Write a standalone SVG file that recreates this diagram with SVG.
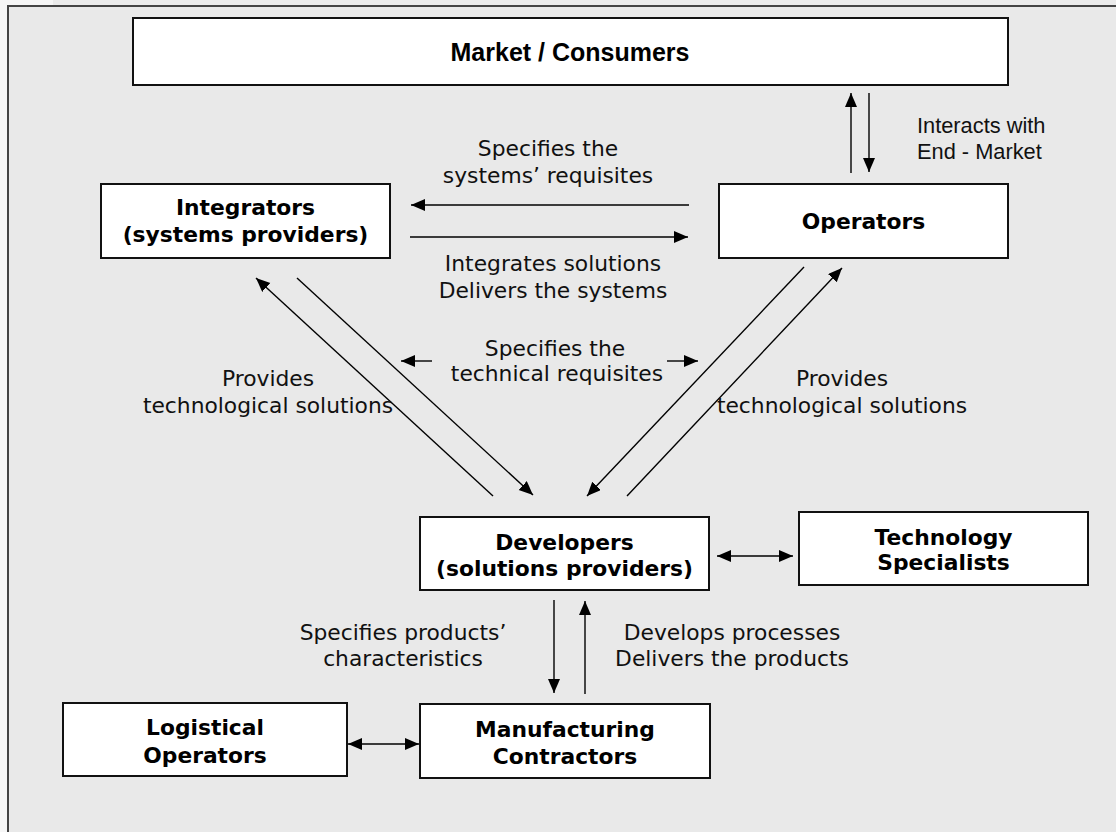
<svg xmlns="http://www.w3.org/2000/svg" width="1116" height="832" viewBox="0 0 1116 832">
<defs>
<marker id="ah" markerUnits="userSpaceOnUse" markerWidth="15" markerHeight="13" refX="14" refY="6" orient="auto-start-reverse">
<path d="M0,0 L14,6 L0,12 z" fill="#000"/>
</marker>
<style>
.box{fill:#fff;stroke:#111;stroke-width:2}
.nl{font-family:"DejaVu Sans",Verdana,sans-serif;font-weight:bold;font-size:21.8px;text-anchor:middle;fill:#000}
.lb{font-family:"DejaVu Sans",Verdana,sans-serif;font-size:21.8px;text-anchor:middle;fill:#111}
.ar{font-family:"Liberation Sans",Arial,sans-serif;font-size:21.8px;fill:#111}
.c line{stroke:#000;stroke-width:1.4;fill:none}
</style>
</defs>
<rect x="0" y="0" width="1116" height="832" fill="#f6f6f6"/>
<rect x="53" y="0" width="1063" height="7" fill="#ebebeb"/>
<rect x="8" y="6" width="1120" height="840" fill="#e9e9e9" stroke="#444" stroke-width="2"/>

<g id="market">
<rect class="box" x="133" y="18" width="875" height="67"/>
<text x="570" y="61" font-family="Liberation Sans, Arial, sans-serif" font-weight="bold" font-size="25" text-anchor="middle">Market / Consumers</text>
</g>
<g id="integrators">
<rect class="box" x="101" y="184" width="289" height="74"/>
<text class="nl" x="245.5" y="215">Integrators</text>
<text class="nl" x="245.5" y="242">(systems providers)</text>
</g>
<g id="operators">
<rect class="box" x="719" y="184" width="289" height="74"/>
<text class="nl" x="863.5" y="229">Operators</text>
</g>
<g id="developers">
<rect class="box" x="420" y="517" width="289" height="73"/>
<text class="nl" x="564.5" y="550">Developers</text>
<text class="nl" x="564.5" y="576">(solutions providers)</text>
</g>
<g id="tech">
<rect class="box" x="799" y="512" width="289" height="73"/>
<text class="nl" x="943.5" y="545">Technology</text>
<text class="nl" x="943.5" y="570">Specialists</text>
</g>
<g id="logistical">
<rect class="box" x="63" y="703" width="284" height="73"/>
<text class="nl" x="205" y="735">Logistical</text>
<text class="nl" x="205" y="763">Operators</text>
</g>
<g id="manufacturing">
<rect class="box" x="420" y="704" width="290" height="74"/>
<text class="nl" x="565" y="737">Manufacturing</text>
<text class="nl" x="565" y="764">Contractors</text>
</g>

<g id="connectors" class="c">
<line x1="851" y1="173" x2="851" y2="93" marker-end="url(#ah)"/>
<line x1="869" y1="93" x2="869" y2="172" marker-end="url(#ah)"/>
<line x1="689" y1="205" x2="411" y2="205" marker-end="url(#ah)"/>
<line x1="410" y1="237" x2="688" y2="237" marker-end="url(#ah)"/>
<line x1="493" y1="496" x2="256" y2="278" marker-end="url(#ah)"/>
<line x1="297" y1="278" x2="533" y2="495" marker-end="url(#ah)"/>
<line x1="804" y1="267" x2="587" y2="496" marker-end="url(#ah)"/>
<line x1="627" y1="496" x2="842" y2="268" marker-end="url(#ah)"/>
<line x1="432" y1="361" x2="401" y2="361" marker-end="url(#ah)"/>
<line x1="667" y1="361" x2="698" y2="361" marker-end="url(#ah)"/>
<line x1="717" y1="556" x2="793" y2="556" marker-start="url(#ah)" marker-end="url(#ah)"/>
<line x1="554" y1="600" x2="554" y2="693" marker-end="url(#ah)"/>
<line x1="585" y1="694" x2="585" y2="601" marker-end="url(#ah)"/>
<line x1="348" y1="744" x2="419" y2="744" marker-start="url(#ah)" marker-end="url(#ah)"/>
</g>

<g id="labels">
<text class="ar" x="917" y="133">Interacts with</text>
<text class="ar" x="917" y="159">End - Market</text>
<text class="lb" x="548" y="156">Specifies the</text>
<text class="lb" x="548" y="183">systems’ requisites</text>
<text class="lb" x="553" y="271">Integrates solutions</text>
<text class="lb" x="553" y="298">Delivers the systems</text>
<text class="lb" x="555" y="356">Specifies the</text>
<text class="lb" x="557" y="381">technical requisites</text>
<text class="lb" x="268" y="386">Provides</text>
<text class="lb" x="268" y="413">technological solutions</text>
<text class="lb" x="842" y="386">Provides</text>
<text class="lb" x="842" y="413">technological solutions</text>
<text class="lb" x="403" y="640">Specifies products’</text>
<text class="lb" x="403" y="666">characteristics</text>
<text class="lb" x="732" y="640">Develops processes</text>
<text class="lb" x="732" y="666">Delivers the products</text>
</g>
</svg>
